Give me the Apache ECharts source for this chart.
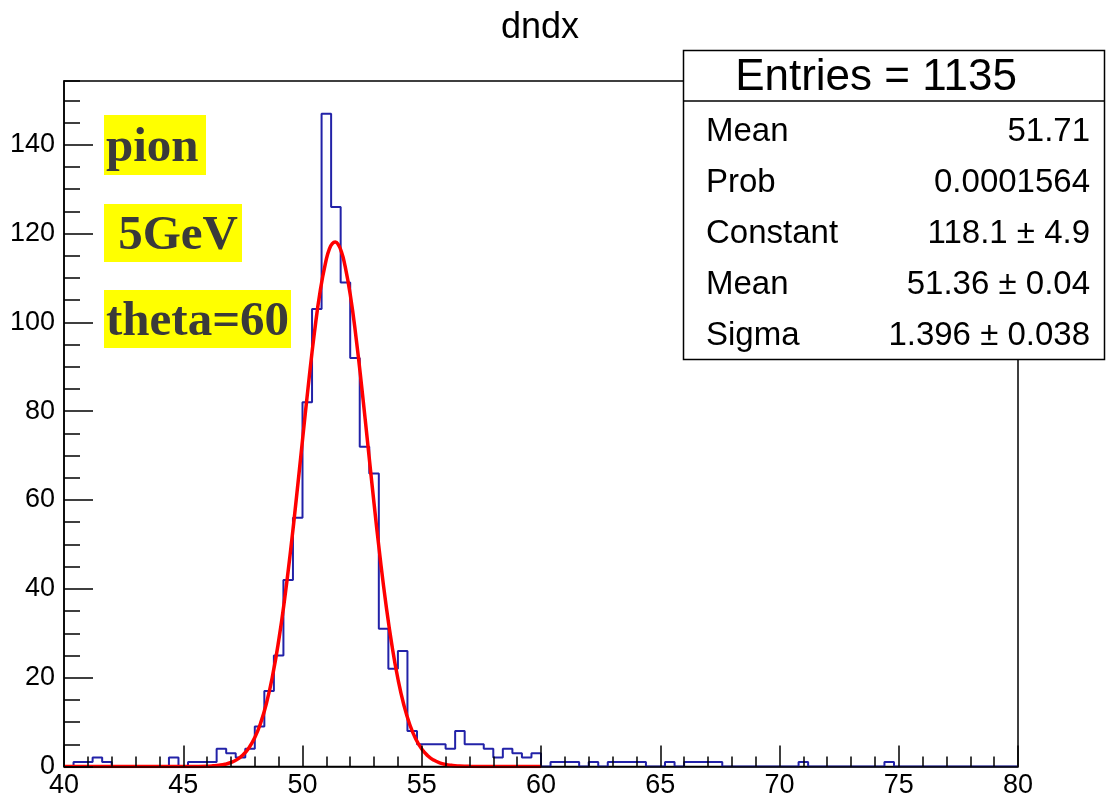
<!DOCTYPE html>
<html>
<head>
<meta charset="utf-8">
<title>dndx</title>
<script src="https://cdn.jsdelivr.net/npm/echarts@6/dist/echarts.min.js"></script>
<style>
  html, body { margin: 0; padding: 0; background: #fff; }
  #chart { width: 1107px; height: 800px; }
</style>
</head>
<body>
<div id="chart"></div>
<script>
  // histogram: 100 bins of 0.4 from 40 to 80
  const histMin = 40
  const binWidth = 0.4
  const counts = [
    0, 1, 1, 2, 1, 0, 0, 0, 0, 0,
    0, 2, 0, 1, 1, 1, 4, 3, 2, 4,
    9, 17, 25, 42, 56, 82, 103, 147, 126, 109,
    92, 72, 66, 31, 22, 26, 8, 5, 5, 5,
    4, 8, 5, 5, 4, 2, 4, 3, 2, 3,
    0, 1, 1, 1, 0, 1, 0, 1, 1, 1,
    1, 0, 0, 1, 0, 1, 1, 1, 1, 0,
    0, 0, 0, 0, 0, 0, 0, 1, 0, 0,
    0, 0, 0, 0, 0, 0, 1, 0, 0, 0,
    0, 0, 0, 0, 0, 0, 0, 0, 0, 0
  ]

  // gaus fit curve
  const fitX = [40, 45, 45.5, 46, 46.25, 46.5, 46.75, 47, 47.25, 47.5, 47.75,
    48, 48.25, 48.5, 48.75, 49, 49.25, 49.5, 49.75, 50, 50.25, 50.5, 50.75,
    51, 51.125, 51.25, 51.375, 51.5, 51.625, 51.75, 52, 52.25, 52.5, 52.75, 53, 53.25, 53.5, 53.75,
    54, 54.25, 54.5, 54.75, 55, 55.25, 55.5, 55.75, 56, 56.25, 56.5, 57, 58, 60]
  const fitY = [0, 0.004, 0.02, 0.07, 0.15, 0.28, 0.51, 0.9, 1.55, 2.58, 4.17,
    6.52, 9.87, 14.48, 20.56, 28.29, 37.68, 48.61, 60.73, 73.48, 86.09, 97.69, 107.35,
    114.24, 116.5, 117.73, 118.1, 117.51, 116.0, 113.58, 106.32, 96.38, 84.61, 71.94, 59.23, 47.23, 36.48, 27.28,
    19.76, 13.85, 9.41, 6.19, 3.94, 2.43, 1.45, 0.84, 0.47, 0.26, 0.13, 0.03, 0, 0]

  const xTicks = [40, 45, 50, 55, 60, 65, 70, 75, 80]
  const yTicks = [0, 20, 40, 60, 80, 100, 120, 140]
  const yMax = 154.35

  const statNames = ['Mean', 'Prob', 'Constant', 'Mean', 'Sigma']
  const statValues = ['51.71', '0.0001564', '118.1 \u00b1 4.9', '51.36 \u00b1 0.04', '1.396 \u00b1 0.038']
  const labels = ['pion', ' 5GeV', 'theta=60']

  const sans = 'Liberation Sans, Arial, sans-serif'
  const serif = 'Liberation Serif, Times New Roman, serif'

  // step outline from bin edges
  let histData = counts.map((c, i) => [histMin + binWidth * i, c])
  histData.push([histMin + binWidth * counts.length, counts[counts.length - 1]])

  let fitData = fitX.map((x, i) => [x, fitY[i]])

  // title, stats box and yellow labels
  let graphics = [
    {type: 'text', x: 540, y: 28, z: 100,
      style: {text: 'dndx', font: '36px ' + sans, fill: '#000', textAlign: 'center', textVerticalAlign: 'middle'}},
    {type: 'rect', z: 100, shape: {x: 683.5, y: 50.5, width: 421, height: 309},
      style: {fill: '#fff', stroke: '#000', lineWidth: 1.5}},
    {type: 'line', z: 101, shape: {x1: 683.5, y1: 101, x2: 1104.5, y2: 101},
      style: {stroke: '#000', lineWidth: 1.5}},
    {type: 'text', x: 876, y: 78, z: 101,
      style: {text: 'Entries = 1135', font: '44px ' + sans, fill: '#000', textAlign: 'center', textVerticalAlign: 'middle'}}
  ]
  statNames.forEach((name, i) => {
    let y = 132 + i * 51
    graphics.push({type: 'text', x: 706, y: y, z: 101,
      style: {text: name, font: '33px ' + sans, fill: '#000', textAlign: 'left', textVerticalAlign: 'middle'}})
    graphics.push({type: 'text', x: 1090, y: y, z: 101,
      style: {text: statValues[i], font: '33px ' + sans, fill: '#000', textAlign: 'right', textVerticalAlign: 'middle'}})
  })
  const boxes = [[104, 115, 102, 60], [104, 204, 138, 58], [104, 290, 187, 58]]
  labels.forEach((t, i) => {
    let b = boxes[i]
    graphics.push({type: 'rect', z: 90, shape: {x: b[0], y: b[1], width: b[2], height: b[3]},
      style: {fill: '#ffff00'}})
    graphics.push({type: 'text', x: b[0] + 2, y: b[1] + b[3] / 2 + 3, z: 91,
      style: {text: t, font: 'bold 49px ' + serif, fill: '#3a3a3a', textAlign: 'left', textVerticalAlign: 'middle'}})
  })

  let option = {
    animation: false,
    backgroundColor: '#fff',
    grid: {
      left: 64, top: 81, right: 89, bottom: 33.5,
      show: true, borderColor: '#000', borderWidth: 1.5, containLabel: false
    },
    xAxis: {
      type: 'value', min: xTicks[0], max: xTicks[xTicks.length - 1], interval: 5, z: 10,
      splitLine: {show: false},
      axisLine: {show: true, onZero: false, lineStyle: {color: '#000', width: 1.5}},
      axisTick: {show: true, inside: true, length: 21, lineStyle: {color: '#000', width: 1.5}},
      minorTick: {show: true, splitNumber: 5, length: 10, lineStyle: {color: '#000', width: 1.5}},
      axisLabel: {color: '#000', fontFamily: sans, fontSize: 27, margin: 6}
    },
    yAxis: [
      {
        type: 'value', min: yTicks[0], max: yMax, interval: 20, z: 10,
        splitLine: {show: false},
        axisLine: {show: true, lineStyle: {color: '#000', width: 1.5}},
        axisTick: {show: true, inside: true, length: 29, lineStyle: {color: '#000', width: 1.5}},
        axisLabel: {color: '#000', fontFamily: sans, fontSize: 27, margin: 9, showMaxLabel: false}
      },
      {
        // minor ticks every 5 up to the top of the frame
        type: 'value', min: yTicks[0], max: yMax, interval: 5, position: 'left', z: 10,
        splitLine: {show: false},
        axisLine: {show: false},
        axisTick: {show: true, inside: true, length: 16, lineStyle: {color: '#000', width: 1.5}},
        axisLabel: {show: false}
      }
    ],
    series: [
      {
        name: 'dndx', type: 'line', step: 'end', data: histData,
        symbol: 'none', color: '#2222a8',
        lineStyle: {width: 2, color: '#2222a8'}
      },
      {
        name: 'gaus', type: 'line', smooth: true, data: fitData,
        symbol: 'none', color: '#ff0000',
        lineStyle: {width: 3.5, color: '#ff0000'}
      }
    ],
    graphic: graphics
  }

  let mychart = echarts.init(document.getElementById('chart'))
  mychart.setOption(option)
</script>
</body>
</html>
